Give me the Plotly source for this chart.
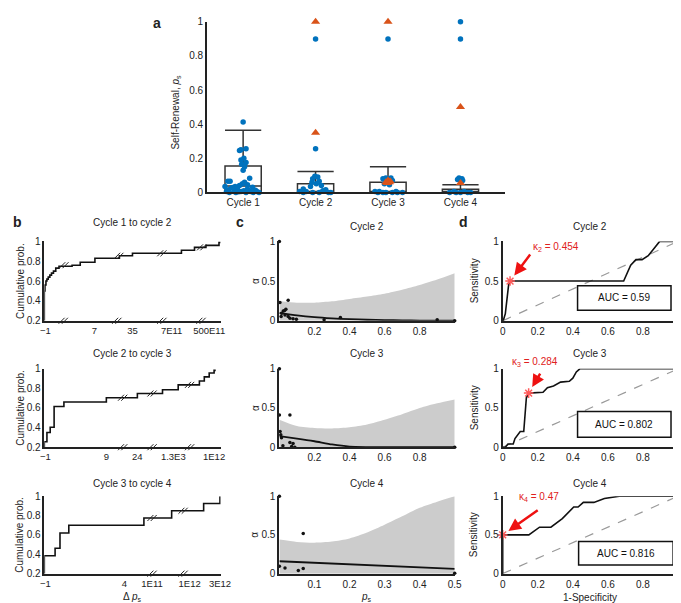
import plotly.graph_objects as go

W, H = 681, 603

# ---------------- panel a data ----------------
cycles = ["Cycle 1", "Cycle 2", "Cycle 3", "Cycle 4"]
box_q1 = [0, 0, 0, 0]
box_med = [0.038, 0.005, 0.002, 0.004]
box_q3 = [0.155, 0.05, 0.06, 0.018]
box_upper = [0.365, 0.122, 0.15, 0.045]

blue_c1 = [0.413, 0.256, 0.25, 0.245, 0.2, 0.19, 0.175, 0.165, 0.15, 0.13, 0.083, 0.065, 0.065, 0.06,
           0.05, 0.045, 0.04, 0.035, 0.035, 0.03, 0.028, 0.02, 0.02, 0.015, 0.012, 0.01, 0.005, 0.005,
           0.005, 0.005, 0.005, 0.0, 0.0, 0.0, 0.0, 0.025, 0.008, 0.003, 0.0]
jit_c1 = [0.0, 0.04, -0.03, -0.05, 0.01, -0.03, 0.04, -0.02, 0.02, 0.0, 0.09, -0.21, -0.18, 0.02,
          -0.01, 0.06, -0.05, -0.25, -0.11, 0.13, -0.14, -0.08, 0.06, -0.2, 0.17, 0.01, -0.23, -0.12,
          -0.03, 0.1, 0.19, -0.19, -0.1, 0.04, 0.14, -0.16, 0.07, -0.06, 0.22]
blue_c2 = [0.9, 0.256, 0.095, 0.09, 0.08, 0.065, 0.06, 0.05, 0.04, 0.035, 0.02, 0.015, 0.01, 0.005,
           0.005, 0.0, 0.0, 0.0, 0.0, 0.0]
jit_c2 = [0.0, 0.0, -0.01, 0.03, -0.04, 0.05, -0.05, 0.01, 0.08, -0.07, -0.17, 0.14, 0.1, -0.22,
          -0.13, -0.17, -0.04, 0.05, 0.18, 0.21]
blue_c3 = [0.9, 0.085, 0.085, 0.08, 0.07, 0.06, 0.05, 0.045, 0.005, 0.005, 0.005, 0.0, 0.0, 0.0, 0.0, 0.0, 0.0]
jit_c3 = [0.0, -0.03, 0.04, -0.07, 0.06, -0.01, -0.05, 0.02, -0.18, -0.12, 0.11, -0.14, -0.07, -0.03, 0.06, 0.13, 0.2]
blue_c4 = [1.0, 0.9, 0.085, 0.08, 0.075, 0.07, 0.005, 0.005, 0.0, 0.0, 0.0, 0.0, 0.0]
jit_c4 = [0.0, 0.0, -0.02, 0.02, -0.04, 0.03, -0.09, 0.05, -0.15, -0.06, 0.0, 0.1, 0.14]

orange_c2 = [1.0, 0.35]
ojit_c2 = [0.0, 0.0]
orange_c3 = [1.0, 0.07, 0.065, 0.06, 0.06, 0.055]
ojit_c3 = [0.0, 0.0, 0.03, -0.03, 0.02, -0.01]
orange_c4 = [0.5, 0.055]
ojit_c4 = [0.0, 0.0]

# ---------------- panel b data (ECDF on broken axis, position units) ----------------
b1_x = [0, 0, 2, 5, 8, 12, 17, 22, 28, 35, 45, 85, 110, 155, 230, 270, 420, 460, 495, 535, 540]
b1_y = [0.2, 0.5, 0.56, 0.6, 0.62, 0.64, 0.66, 0.68, 0.7, 0.73, 0.75, 0.76, 0.79, 0.83, 0.855, 0.88,
        0.91, 0.94, 0.96, 0.99, 0.99]
b1_tickpos = [3, 153, 270, 390, 505]
b1_ticklab = ["\u22121", "7", "35", "7E11", "500E11"]
b1_axbreaks = [58, 222, 360, 480]
b1_cbreaks_x = [60, 228, 360, 482]
b1_cbreaks_y = [0.76, 0.855, 0.88, 0.94]

b2_x = [0, 0, 8, 18, 30, 60, 190, 285, 362, 410, 475, 490, 505, 520, 525]
b2_y = [0.2, 0.256, 0.35, 0.403, 0.616, 0.662, 0.705, 0.748, 0.787, 0.836, 0.875, 0.918, 0.957, 0.984, 0.984]
b2_tickpos = [3, 190, 285, 395, 520]
b2_ticklab = ["\u22121", "9", "24", "1.3E3", "1E12"]
b2_axbreaks = [240, 330, 445]
b2_cbreaks_x = [240, 330, 445]
b2_cbreaks_y = [0.705, 0.748, 0.836]

b3_x = [0, 0, 33, 48, 75, 305, 390, 488, 538]
b3_y = [0.2, 0.385, 0.462, 0.62, 0.70, 0.775, 0.85, 0.925, 1.0]
b3_tickpos = [3, 245, 330, 445, 538]
b3_ticklab = ["\u22121", "4", "1E11", "1E12", "3E12"]
b3_axbreaks = [330, 425]
b3_cbreaks_x = [330, 425]
b3_cbreaks_y = [0.775, 0.85]

# ---------------- panel c data ----------------
c_grid = [0, 0.1, 0.2, 0.3, 0.4, 0.5, 0.6, 0.7, 0.8, 0.9, 1.0]
c1_upper = [0.25, 0.228, 0.228, 0.245, 0.275, 0.305, 0.34, 0.39, 0.45, 0.52, 0.60]
c1_fit = [0.1, 0.068, 0.045, 0.03, 0.02, 0.013, 0.008, 0.005, 0.003, 0.002, 0.001]
c1_px = [0, 0.003, 0.05, 0.037, 0.022, 0.03, 0.013, 0.032, 0.01, 0.05, 0.06, 0.078, 0.097, 0.255, 0.348, 0.9, 1.0]
c1_py = [1, 0.23, 0.26, 0.144, 0.123, 0.13, 0.095, 0.074, 0.053, 0.053, 0.033, 0.025, 0.02, 0.012, 0.04, 0.012, 0.0]

c2_upper = [0.35, 0.27, 0.245, 0.24, 0.255, 0.29, 0.35, 0.42, 0.50, 0.56, 0.61]
c2_fit = [0.14, 0.11, 0.076, 0.035, 0.008, 0.002, 0.0, 0.0, 0.0, 0.0, 0.0]
c2_px = [0, 0, 0.06, 0.004, 0.008, 0.012, 0.02, 0.06, 0.078, 0.07, 0.088, 1.0]
c2_py = [1, 0.41, 0.41, 0.2, 0.16, 0.12, 0.02, 0.06, 0.046, 0.01, 0.0, 0.0]

c3_grid = [0, 0.05, 0.1, 0.15, 0.2, 0.25, 0.3, 0.35, 0.4, 0.45, 0.5]
c3_upper = [0.44, 0.41, 0.40, 0.415, 0.455, 0.53, 0.63, 0.74, 0.85, 0.93, 1.0]
c3_fit_x = [0, 0.5]
c3_fit = [0.16, 0.062]
c3_px = [0, 0, 0.016, 0.054, 0.068, 0.068, 0.5]
c3_py = [1, 0.095, 0.074, 0.041, 0.066, 0.52, 0.004]

# ---------------- panel d data ----------------
d1_fpr = [0, 0.003, 0.015, 0.024, 0.033, 0.042, 0.69, 0.73, 0.76, 0.795, 0.83, 0.87, 0.895, 1.0]
d1_tpr = [0, 0, 0.09, 0.28, 0.44, 0.5, 0.5, 0.70, 0.77, 0.77, 0.82, 0.93, 1.0, 1.0]
d2_fpr = [0, 0.015, 0.03, 0.06, 0.07, 0.1, 0.12, 0.135, 0.148, 0.23, 0.255, 0.29, 0.33, 0.38, 0.40, 0.42, 0.44, 1.0]
d2_tpr = [0, 0, 0.04, 0.04, 0.11, 0.2, 0.2, 0.63, 0.69, 0.70, 0.76, 0.78, 0.83, 0.84, 0.88, 0.96, 1.0, 1.0]
d3_fpr = [0, 0, 0.149, 0.21, 0.275, 0.34, 0.405, 0.43, 0.46, 0.52, 0.58, 0.665, 1.0]
d3_tpr = [0, 0.5, 0.5, 0.6, 0.6, 0.71, 0.86, 0.86, 0.92, 0.92, 0.97, 1.0, 1.0]
kappa_pts_x = [0.042, 0.148, 0.0]
kappa_pts_y = [0.5, 0.69, 0.5]
kappa_labels = ["\u03ba<sub>2</sub> = 0.454", "\u03ba<sub>3</sub> = 0.284", "\u03ba<sub>4</sub> = 0.47"]
auc_labels = ["AUC = 0.59", "AUC = 0.802", "AUC = 0.816"]
auc_box_x0 = [0.427, 0.427, 0.433]
auc_box_x1 = [0.96, 0.96, 0.972]
auc_box_y0 = [0.134, 0.126, 0.113]
auc_box_y1 = [0.44, 0.454, 0.415]

# ================= figure =================
BLUE = "#0072BD"
ORANGE = "#D95319"
KRED = "#ff5a5a"
FONT = "Liberation Sans, Arial, sans-serif"
fig = go.Figure()
layout = dict(width=W, height=H, margin=dict(l=0, r=0, t=0, b=0), paper_bgcolor="white",
              plot_bgcolor="white", showlegend=False,
              font=dict(family=FONT, size=10, color="#222"))
annotations = []
shapes = []


def xd(a, b):
    return [a / W, b / W]


def yd(top, bottom):
    return [1 - bottom / H, 1 - top / H]


def set_axes(n, xdom, ydom, xr, yr, xt, xtt, yt, ytt, lw=1.5, xfs=10):
    s = "" if n == 1 else str(n)
    layout["xaxis" + s] = dict(domain=xdom, range=xr, anchor="y" + s, showline=True, linecolor="#222",
                               linewidth=lw, ticks="", tickvals=xt, ticktext=xtt, showgrid=False,
                               zeroline=False, fixedrange=True, tickfont=dict(size=xfs))
    layout["yaxis" + s] = dict(domain=ydom, range=yr, anchor="x" + s, showline=True, linecolor="#222",
                               linewidth=lw, ticks="", tickvals=yt, ticktext=ytt, showgrid=False,
                               zeroline=False, fixedrange=True)


def ann(x, y, text, size=10, bold=False, angle=0, color="#222"):
    annotations.append(dict(x=x / W, y=1 - y / H, xref="paper", yref="paper",
                            text=("<b>%s</b>" % text) if bold else text,
                            showarrow=False, textangle=angle,
                            font=dict(size=size, color=color, family=FONT),
                            xanchor="center", yanchor="middle"))


# ---- panel a ----
set_axes(1, xd(199, 503), yd(8, 182), [0.5, 4.61], [0, 1], [1, 2, 3, 4], cycles,
         [0, 0.2, 0.4, 0.6, 0.8, 1], ["0", "0.2", "0.4", "0.6", "0.8", "1"])
fig.add_trace(go.Box(x=[1, 2, 3, 4], q1=box_q1, median=box_med, q3=box_q3, lowerfence=box_q1,
                     upperfence=box_upper, width=0.5, whiskerwidth=1, boxpoints=False,
                     line=dict(color="#333", width=1.5), fillcolor="rgba(0,0,0,0)",
                     xaxis="x", yaxis="y", hoverinfo="skip"))
for i, (vals, jit) in enumerate([(blue_c1, jit_c1), (blue_c2, jit_c2), (blue_c3, jit_c3), (blue_c4, jit_c4)]):
    fig.add_trace(go.Scatter(x=[i + 1 + j for j in jit], y=vals, mode="markers", cliponaxis=False,
                             marker=dict(color=BLUE, size=5.5), xaxis="x", yaxis="y"))
for i, (vals, jit) in enumerate([(orange_c2, ojit_c2), (orange_c3, ojit_c3), (orange_c4, ojit_c4)]):
    fig.add_trace(go.Scatter(x=[i + 2 + j for j in jit], y=vals, mode="markers", cliponaxis=False,
                             marker=dict(color=ORANGE, size=8, symbol="triangle-up"), xaxis="x", yaxis="y"))
ann(167, 100, "Self-Renewal, <i>p</i><sub>s</sub>", angle=-90)
ann(148, 9, "a", size=14, bold=True)

# ---- panel b ----
rows = [(232, 313), (362, 442), (492, 571)]
b_sets = [(b1_x, b1_y, b1_tickpos, b1_ticklab, b1_axbreaks, b1_cbreaks_x, b1_cbreaks_y),
          (b2_x, b2_y, b2_tickpos, b2_ticklab, b2_axbreaks, b2_cbreaks_x, b2_cbreaks_y),
          (b3_x, b3_y, b3_tickpos, b3_ticklab, b3_axbreaks, b3_cbreaks_x, b3_cbreaks_y)]
b_titles = ["Cycle 1 to cycle 2", "Cycle 2 to cycle 3", "Cycle 3 to cycle 4"]
title_y = [213, 346, 479]
BOTTOM_TITLE_Y = 595
BRK = 5  # half-gap between the two strokes of a "//" break mark, in axis units
for k, (bx, by, tp, tl, axb, cbx, cby) in enumerate(b_sets):
    n = 2 + k
    s = str(n)
    top, bot = rows[k]
    set_axes(n, xd(33, 213), yd(top, bot), [0, 540], [0.2, 1.0], tp, tl,
             [0.2, 0.4, 0.6, 0.8, 1], ["0.2", "0.4", "0.6", "0.8", "1"], xfs=9.5)
    fig.add_trace(go.Scatter(x=bx, y=by, mode="lines", line=dict(color="#111", width=1.6, shape="hv"),
                             cliponaxis=False, xaxis="x" + s, yaxis="y" + s))
    mx, my = [], []
    for xb in axb:
        mx += [xb - BRK, xb + BRK]
        my += [0.2, 0.2]
    for xb, yb in zip(cbx, cby):
        mx += [xb - BRK, xb + BRK]
        my += [yb, yb]
    fig.add_trace(go.Scatter(x=mx, y=my, mode="markers", cliponaxis=False,
                             marker=dict(symbol="line-ne", size=6, color="#222",
                                         line=dict(color="#222", width=1)),
                             xaxis="x" + s, yaxis="y" + s))
    ann(123, title_y[k], b_titles[k])
    ann(8, (top + bot) / 2, "Cumulative prob.", angle=-90)
ann(123, BOTTOM_TITLE_Y, "\u0394 <i>p</i><sub>s</sub>")
ann(6, 212, "b", size=14, bold=True)

# ---- panel c ----
c_sets = [(c_grid, c1_upper, c_grid, c1_fit, c1_px, c1_py, [0, 1.0], [0.2, 0.4, 0.6, 0.8]),
          (c_grid, c2_upper, c_grid, c2_fit, c2_px, c2_py, [0, 1.0], [0.2, 0.4, 0.6, 0.8]),
          (c3_grid, c3_upper, c3_fit_x, c3_fit, c3_px, c3_py, [0, 0.5], [0.1, 0.2, 0.3, 0.4, 0.5])]
c_titles = ["Cycle 2", "Cycle 3", "Cycle 4"]
for k, (gx, up, fx, fy, px, py, xr, xt) in enumerate(c_sets):
    n = 5 + k
    s = str(n)
    top, bot = rows[k]
    set_axes(n, xd(273, 452), yd(top, bot), xr, [0, 1], xt, [str(v) for v in xt],
             [0, 0.5, 1], ["0", "0.5", "1"], lw=2)
    fig.add_trace(go.Scatter(x=gx, y=[0] * len(gx), mode="lines", line=dict(width=0, color="#ccc"),
                             xaxis="x" + s, yaxis="y" + s))
    fig.add_trace(go.Scatter(x=gx, y=up, mode="lines", fill="tonexty", fillcolor="#cccccc",
                             line=dict(width=0, color="#ccc", shape="spline", smoothing=0.8),
                             xaxis="x" + s, yaxis="y" + s))
    fig.add_trace(go.Scatter(x=fx, y=fy, mode="lines", line=dict(color="#111", width=1.8, shape="spline", smoothing=0.6),
                             cliponaxis=False, xaxis="x" + s, yaxis="y" + s))
    fig.add_trace(go.Scatter(x=px, y=py, mode="markers", marker=dict(color="#111", size=3.5),
                             cliponaxis=False, xaxis="x" + s, yaxis="y" + s))
    ann(362, title_y[k] + (4 if k == 0 else 0), c_titles[k])
    ann(248, (top + bot) / 2, "\u03b1", angle=-90)
ann(362, BOTTOM_TITLE_Y, "<i>p</i><sub>s</sub>")
ann(233, 212, "c", size=14, bold=True)

# ---- panel d ----
d_sets = [(d1_fpr, d1_tpr), (d2_fpr, d2_tpr), (d3_fpr, d3_tpr)]
kappa_text_pos = [(555, 238), (534, 355), (538, 493)]
arrow_off = [(22, -29), (13, -22), (37, -26)]
for k, (fx, ty) in enumerate(d_sets):
    n = 8 + k
    s = str(n)
    top, bot = rows[k]
    set_axes(n, xd(501, 680), yd(top, bot), [0, 1], [0, 1], [0, 0.2, 0.4, 0.6, 0.8, 1],
             ["0", "0.2", "0.4", "0.6", "0.8", "1"], [0, 0.5, 1], ["0", "0.5", "1"], lw=2)
    fig.add_trace(go.Scatter(x=[0, 1], y=[0, 1], mode="lines", line=dict(color="#999", width=1.2, dash="dash"),
                             xaxis="x" + s, yaxis="y" + s))
    fig.add_trace(go.Scatter(x=fx, y=ty, mode="lines", line=dict(color="#111", width=1.6),
                             cliponaxis=False, xaxis="x" + s, yaxis="y" + s))
    fig.add_trace(go.Scatter(x=[kappa_pts_x[k]], y=[kappa_pts_y[k]], mode="markers", cliponaxis=False,
                             marker=dict(symbol="asterisk-open", size=8, color=KRED,
                                         line=dict(color=KRED, width=1.5)),
                             xaxis="x" + s, yaxis="y" + s))
    shapes.append(dict(type="rect", xref="x" + s, yref="y" + s, x0=auc_box_x0[k], x1=auc_box_x1[k],
                       y0=auc_box_y0[k], y1=auc_box_y1[k], line=dict(color="#111", width=1.5),
                       fillcolor="white", layer="above"))
    annotations.append(dict(x=(auc_box_x0[k] + auc_box_x1[k]) / 2, y=(auc_box_y0[k] + auc_box_y1[k]) / 2,
                            xref="x" + s, yref="y" + s, text=auc_labels[k], showarrow=False,
                            font=dict(size=10, color="#111", family=FONT)))
    annotations.append(dict(x=kappa_pts_x[k], y=kappa_pts_y[k], xref="x" + s, yref="y" + s, text=" ",
                            showarrow=True, ax=arrow_off[k][0], ay=arrow_off[k][1], arrowcolor="#ee1111",
                            arrowwidth=2.5, arrowhead=2, arrowsize=1, standoff=7,
                            font=dict(size=2)))
    ann(kappa_text_pos[k][0], kappa_text_pos[k][1], kappa_labels[k], color="#e02020")
    ann(590, title_y[k] + (4 if k == 0 else 0), c_titles[k])
    ann(472, (top + bot) / 2, "Sensitivity", angle=-90)
ann(590, BOTTOM_TITLE_Y, "1-Specificity")
ann(461, 212, "d", size=14, bold=True)

layout["annotations"] = annotations
layout["shapes"] = shapes
fig.update_layout(**layout)
fig.write_html("out.html")
